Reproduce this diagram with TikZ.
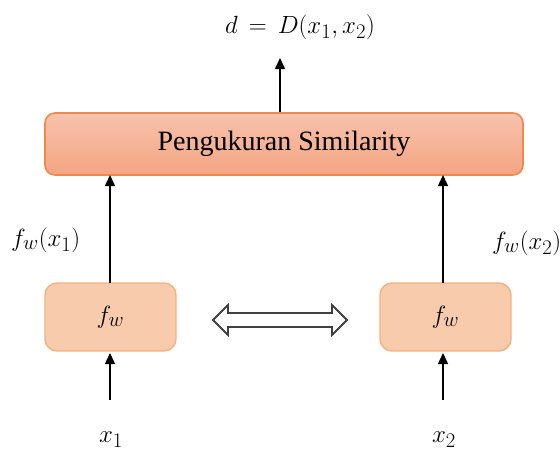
\documentclass[tikz,border=0pt]{standalone}
\usepackage{fontspec}
\setmainfont{Liberation Serif}
\usetikzlibrary{arrows.meta}
\definecolor{bigtop}{HTML}{F8C3AC}
\definecolor{bigbot}{HTML}{F4A482}
\definecolor{bigborder}{HTML}{EE8A4E}
\definecolor{smallfill}{HTML}{F8CBAD}
\definecolor{smallborder}{HTML}{F4B183}
\begin{document}
\begin{tikzpicture}[x=1pt,y=-1pt,
  bigbox/.style={draw=bigborder,line width=1.6pt,rounded corners=10pt,top color=bigtop,bottom color=bigbot,
    minimum width=478pt,minimum height=62pt,inner sep=0pt,font=\fontsize{28}{30}\selectfont},
  smallbox/.style={draw=smallborder,line width=1.4pt,fill=smallfill,rounded corners=12pt,
    minimum width=131pt,minimum height=68pt,inner sep=0pt,font=\fontsize{29}{32}\selectfont},
  lbl/.style={inner sep=0pt,font=\fontsize{28}{32}\selectfont},
  arr/.style={line width=1.5pt,-{Triangle[length=11pt,width=10pt]}},
  hollow/.style={draw=black!75,line width=1.8pt,fill=white,line join=miter}]
\useasboundingbox (0,0) rectangle (560,456);
\node[bigbox] (sim) at (284,144) {\raisebox{2pt}{Pengukuran Similarity}};
\node[smallbox] (f1) at (110.5,317) {$f_w$};
\node[smallbox] (f2) at (445.5,317) {$f_w$};
\node[lbl] (d) at (300,27) {$d\,=\,D(x_1,x_2)$};
\coordinate (dtop) at (280,58);
\node[lbl] (x1) at (111,440) {$x_1$};
\node[lbl] (x2) at (444,440) {$x_2$};
\coordinate (x1top) at (110,400);
\coordinate (x2top) at (443,400);
\node[lbl,anchor=west] (l1) at (11,240) {$f_w(x_1)$};
\node[lbl,anchor=west] (l2) at (492,243) {$f_w(x_2)$};
\draw[arr] (sim.north -| dtop) -- (dtop);
\draw[arr] (110,283) -- (110,175);
\draw[arr] (443,283) -- (443,175);
\draw[arr] (x1top) -- (110,353);
\draw[arr] (x2top) -- (443,353);
% hollow double arrow
\draw[hollow] (213,320) -- (228,305) -- (228,313) -- (332,313) -- (332,305) -- (347,320)
  -- (332,335) -- (332,327) -- (228,327) -- (228,335) -- cycle;
\end{tikzpicture}
\end{document}
